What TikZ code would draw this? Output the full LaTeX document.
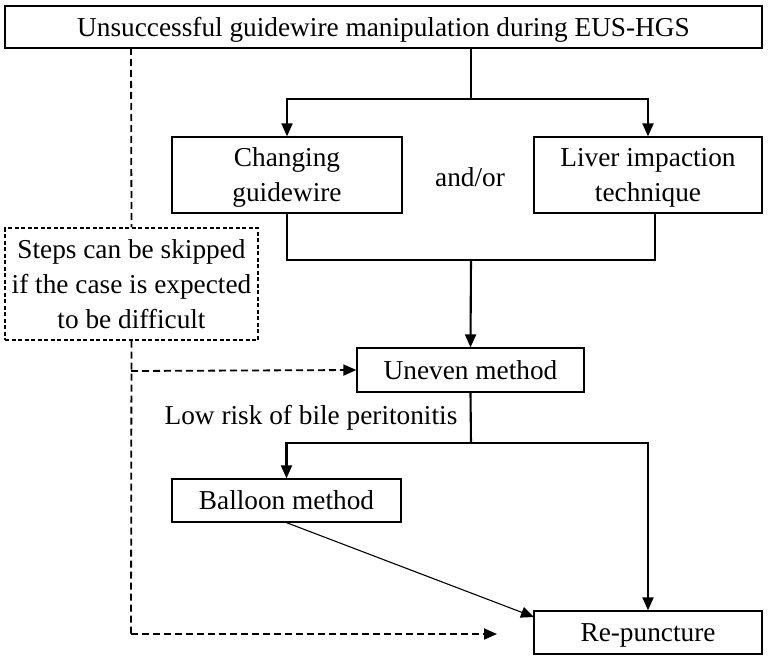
\documentclass[tikz,border=0pt]{standalone}
\usepackage{fontspec}
\setmainfont{Liberation Serif}
\usetikzlibrary{arrows.meta,calc}
\begin{document}
\begin{tikzpicture}[x=1pt,y=-1pt,
  font=\fontsize{27.3}{35}\selectfont,
  box/.style={draw, line width=1.3pt, align=center, inner sep=0pt, text depth=0pt},
  skipbox/.style={draw, line width=1.1pt, dash pattern=on 4pt off 2.5pt, align=center, inner sep=0pt},
  conn/.style={line width=2.1pt},
  arr/.style={line width=2.1pt, -{Triangle[length=13pt,width=11pt]}},
  thinarr/.style={line width=1.1pt, -{Triangle[length=13pt,width=11pt]}},
  dline/.style={line width=1.8pt, dash pattern=on 7pt off 4pt},
  darr/.style={line width=1.8pt, dash pattern=on 7pt off 4pt, -{Triangle[length=13pt,width=11pt]}}
]
\useasboundingbox (0,0) rectangle (769,661);
\node[box, minimum width=757pt, minimum height=42pt] (top) at (383.5,27) {Unsuccessful guidewire manipulation during EUS-HGS};
\node[box, minimum width=230pt, minimum height=76pt] (cg) at (287,175) {Changing\\guidewire};
\node[box, minimum width=228pt, minimum height=76pt] (li) at (648,175) {Liver impaction\\technique};
\node (andor) at (470,177) {and/or};
\node[skipbox, minimum width=253pt, minimum height=112pt] (skip) at (131.5,284) {Steps can be skipped\\if the case is expected\\to be difficult};
\node[box, minimum width=227pt, minimum height=44pt] (uneven) at (470.5,370) {Uneven method};
\node (low) at (311,418) {Low risk of bile peritonitis};
\node[box, minimum width=229pt, minimum height=43pt] (balloon) at (286.5,500.5) {Balloon method};
\node[box, minimum width=228pt, minimum height=43pt] (rep) at (648,632.5) {Re-puncture};

\coordinate (b1) at (471,99);
\coordinate (j2) at (471,260);
\coordinate (lr) at (655,213);
\coordinate (j3) at (471,443);
\coordinate (d1) at (131,48);
\coordinate (d2) at (131,371);
\coordinate (d3) at (131,634);
\coordinate (d3e) at (497,634);
\coordinate (repin) at (534,617);

\draw[conn] (top.south -| b1) -- (b1);
\draw[arr] (b1) -| (cg.north);
\draw[arr] (b1) -| (li.north);
\draw[conn] (cg.south) |- (j2);
\draw[conn] (lr) |- (j2);
\draw[arr] (j2) -- (uneven.north);
\draw[conn] (uneven.south) -- (j3);
\draw[arr] (j3) -| (balloon.north);
\draw[arr] (j3) -| (rep.north);
\draw[thinarr] (balloon.south) -- (repin);

\draw[dline] (d1) -- (skip.north);
\draw[dline] (skip.south) -- (d3);
\draw[darr] (d2) -- (uneven.west);
\draw[darr] (d3) -- (d3e);
\end{tikzpicture}
\end{document}
